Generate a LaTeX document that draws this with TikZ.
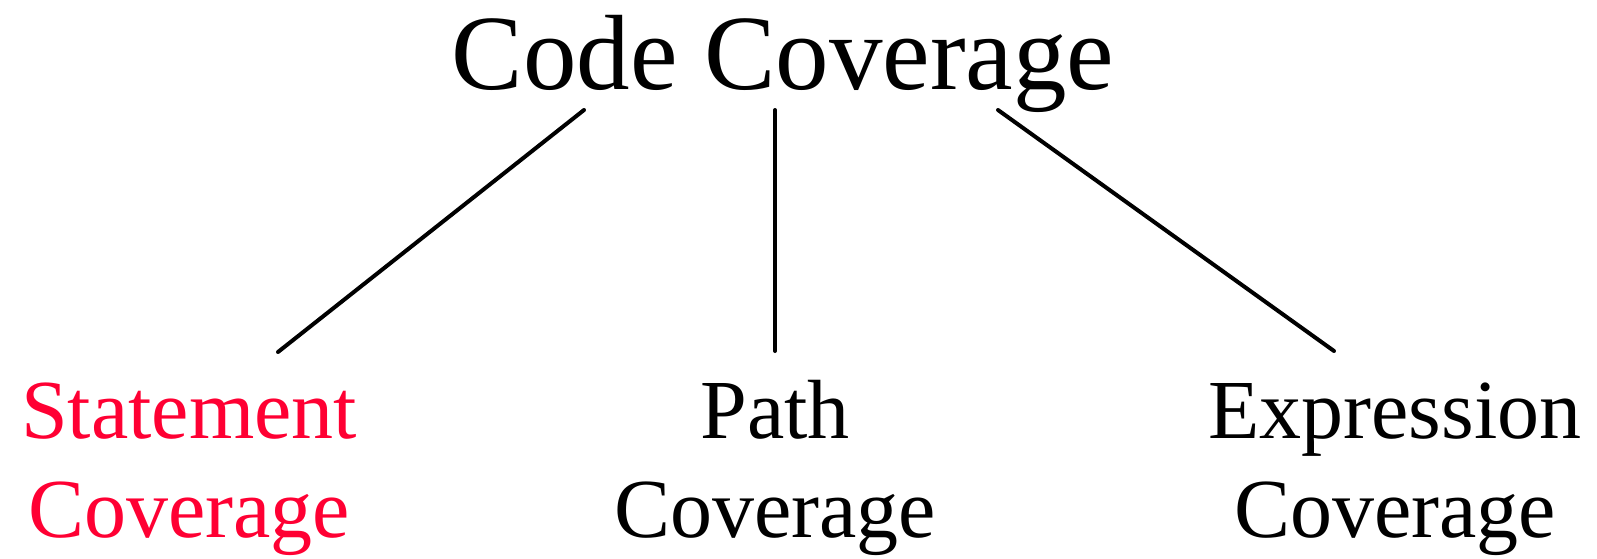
\documentclass[tikz,border=0pt]{standalone}
\usepackage{fontspec}
\setmainfont{Liberation Serif}
\definecolor{stmtred}{HTML}{FF0033}
\begin{document}
\begin{tikzpicture}[x=1pt,y=-1pt,
  titletext/.style={inner sep=0pt,anchor=base,font=\fontsize{107}{120}\selectfont},
  leaftext/.style={inner sep=0pt,anchor=base,align=center,font=\fontsize{84}{99}\selectfont},
  branch/.style={line width=4pt,line cap=round}]
\useasboundingbox (0,0) rectangle (1597,558);
\node[titletext] (root) at (783,89) {Code Coverage};
\node[leaftext,text=stmtred] (stmt) at (189,537) {Statement\\Coverage};
\node[leaftext] (path) at (775,537) {Path\\Coverage};
\node[leaftext] (expr) at (1395,537) {Expression\\Coverage};
\coordinate (r1) at (584,110);
\coordinate (r2) at (775,110);
\coordinate (r3) at (998,110);
\coordinate (s1) at (278,352);
\coordinate (p1) at (775,351);
\coordinate (e1) at (1334,351);
\draw[branch] (r1) -- (s1);
\draw[branch] (r2) -- (p1);
\draw[branch] (r3) -- (e1);
\end{tikzpicture}
\end{document}
